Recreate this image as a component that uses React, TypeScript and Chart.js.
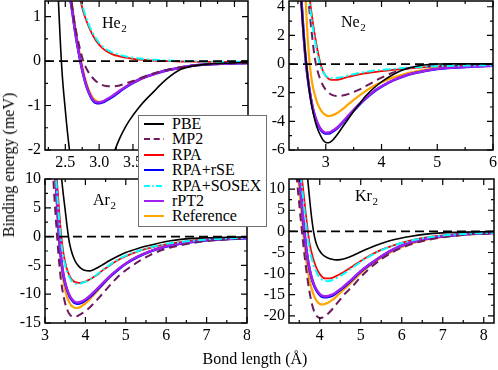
import React, { useEffect, useRef } from "react";
import { Chart, registerables } from "chart.js";
Chart.register(...registerables);

// ---------- series meta ----------
const METHODS = ["PBE", "MP2", "RPA", "RPA+rSE", "RPA+SOSEX", "rPT2", "Reference"];
const COLORS = ["#000000", "#6b1a5c", "#ff0000", "#0000ff", "#00ffff", "#a020f0", "#ffa500"];
const DASHES: number[][] = [[], [8, 5], [], [], [8, 3, 2, 3], [], []];
const WIDTHS = [1.6, 2, 1.8, 2.6, 2, 2.4, 2.2];
// higher order = drawn first (underneath)
const ORDERS = [1, 3, 5, 6, 2, 4, 7];

// ---------- He2 ----------
const heR = [2.3, 2.35, 2.4, 2.45, 2.5, 2.55, 2.6, 2.65, 2.7, 2.75, 2.8, 2.85, 2.9, 2.95, 3.0, 3.05, 3.1, 3.2, 3.3, 3.4, 3.5, 3.6, 3.7, 3.8, 3.9, 4.0, 4.2, 4.4, 4.6, 4.8, 5.0, 5.2];
const hePBE = [6.0, 3.2, 1.3, -0.2, -1.1, -1.85, -2.4, -2.85, -3.2, -3.42, -3.55, -3.58, -3.5, -3.38, -3.2, -2.95, -2.7, -2.15, -1.75, -1.45, -1.22, -1.02, -0.85, -0.7, -0.54, -0.4, -0.19, -0.11, -0.07, -0.05, -0.04, -0.03];
const heMP2 = [13, 10, 7.5, 5.2, 3.4, 2.1, 1.25, 0.75, 0.38, 0.08, -0.13, -0.27, -0.37, -0.45, -0.5, -0.54, -0.56, -0.57, -0.55, -0.5, -0.45, -0.39, -0.33, -0.28, -0.235, -0.2, -0.14, -0.1, -0.075, -0.06, -0.05, -0.045];
const heRPA = [16, 12.5, 9.5, 7, 5.2, 3.8, 2.8, 2.05, 1.55, 1.2, 0.95, 0.76, 0.6, 0.47, 0.37, 0.29, 0.23, 0.15, 0.105, 0.075, 0.05, 0.035, 0.022, 0.012, 0.005, 0.0, -0.01, -0.015, -0.02, -0.02, -0.02, -0.02];
const heRSE = [8, 6.2, 4.6, 3.3, 2.3, 1.65, 1.15, 0.62, 0.18, -0.2, -0.5, -0.72, -0.87, -0.94, -0.95, -0.93, -0.89, -0.8, -0.69, -0.58, -0.49, -0.41, -0.35, -0.3, -0.25, -0.21, -0.15, -0.1, -0.075, -0.06, -0.05, -0.045];
const heSOSEX = [17, 13.5, 10.2, 7.5, 5.5, 4.0, 2.95, 2.15, 1.62, 1.27, 1.01, 0.81, 0.65, 0.52, 0.41, 0.33, 0.27, 0.19, 0.14, 0.1, 0.075, 0.055, 0.04, 0.03, 0.02, 0.012, 0.0, -0.008, -0.012, -0.015, -0.015, -0.015];
const heRPT2 = [8, 6.2, 4.6, 3.3, 2.3, 1.65, 1.15, 0.62, 0.18, -0.2, -0.5, -0.71, -0.85, -0.92, -0.93, -0.91, -0.87, -0.78, -0.67, -0.57, -0.48, -0.41, -0.35, -0.3, -0.25, -0.21, -0.15, -0.1, -0.075, -0.06, -0.05, -0.045];
const heREF = [9, 7, 5.2, 3.8, 2.65, 1.85, 1.25, 0.72, 0.27, -0.12, -0.43, -0.66, -0.81, -0.89, -0.92, -0.91, -0.88, -0.79, -0.68, -0.58, -0.49, -0.42, -0.355, -0.3, -0.25, -0.21, -0.15, -0.1, -0.075, -0.06, -0.05, -0.045];

// ---------- Ne2 ----------
const neR = [2.5, 2.55, 2.6, 2.65, 2.7, 2.75, 2.8, 2.85, 2.9, 2.95, 3.0, 3.05, 3.1, 3.2, 3.3, 3.4, 3.5, 3.6, 3.7, 3.8, 3.9, 4.0, 4.2, 4.4, 4.6, 4.8, 5.0, 5.3, 5.6, 6.0];
const nePBE = [9, 5.0, 2.2, 0.0, -1.7, -2.95, -3.85, -4.5, -4.95, -5.3, -5.47, -5.49, -5.4, -4.95, -4.4, -3.85, -3.3, -2.8, -2.3, -1.9, -1.55, -1.25, -0.75, -0.38, -0.17, -0.05, 0.0, 0.02, 0.02, 0.01];
const neMP2 = [14, 11, 8.5, 6.2, 4.0, 2.1, 0.5, -0.45, -1.05, -1.5, -1.8, -2.0, -2.13, -2.23, -2.2, -2.1, -1.95, -1.78, -1.58, -1.37, -1.15, -0.95, -0.6, -0.36, -0.22, -0.15, -0.11, -0.08, -0.06, -0.05];
const neRPA = [16, 13, 10, 7.5, 5.0, 3.4, 2.1, 1.0, 0.1, -0.5, -0.85, -1.02, -1.1, -1.1, -1.02, -0.9, -0.8, -0.72, -0.65, -0.59, -0.54, -0.49, -0.41, -0.33, -0.26, -0.21, -0.17, -0.13, -0.11, -0.09];
const neRSE = [8.5, 5.2, 2.2, -0.1, -1.65, -2.8, -3.6, -4.15, -4.53, -4.76, -4.85, -4.84, -4.76, -4.5, -4.1, -3.67, -3.25, -2.84, -2.46, -2.12, -1.82, -1.57, -1.16, -0.85, -0.63, -0.47, -0.35, -0.25, -0.18, -0.12];
const neSOSEX = [15, 12, 9.3, 6.8, 4.6, 3.0, 1.8, 0.7, -0.1, -0.55, -0.82, -0.95, -1.0, -0.98, -0.9, -0.8, -0.71, -0.63, -0.56, -0.5, -0.45, -0.41, -0.34, -0.27, -0.22, -0.18, -0.15, -0.12, -0.1, -0.08];
const neRPT2 = [8.5, 5.2, 2.2, -0.1, -1.6, -2.75, -3.55, -4.1, -4.48, -4.7, -4.79, -4.78, -4.7, -4.45, -4.05, -3.62, -3.2, -2.8, -2.43, -2.1, -1.8, -1.55, -1.15, -0.84, -0.62, -0.46, -0.34, -0.25, -0.18, -0.12];
const neREF = [18, 13, 8, 3.6, 0.5, -1.2, -2.1, -2.75, -3.15, -3.42, -3.57, -3.63, -3.6, -3.43, -3.15, -2.82, -2.5, -2.2, -1.92, -1.67, -1.45, -1.27, -0.95, -0.71, -0.53, -0.39, -0.29, -0.2, -0.14, -0.1];

// ---------- Ar2 ----------
const arR = [3.1, 3.2, 3.25, 3.3, 3.35, 3.4, 3.45, 3.5, 3.55, 3.6, 3.65, 3.7, 3.75, 3.8, 3.85, 3.9, 4.0, 4.1, 4.2, 4.3, 4.4, 4.6, 4.8, 5.0, 5.3, 5.6, 6.0, 6.5, 7.0, 7.5, 8.0];
const arPBE = [60, 35, 26, 19, 14, 10.8, 7.5, 4.6, 1.6, -0.9, -2.4, -3.5, -4.3, -4.85, -5.25, -5.55, -5.9, -5.95, -5.75, -5.4, -5.0, -4.15, -3.4, -2.75, -2.05, -1.5, -0.85, -0.4, -0.2, -0.1, -0.05];
const arMP2 = [30, 11, 5, 0, -4.5, -7.8, -10.0, -11.6, -12.7, -13.4, -13.8, -13.95, -13.9, -13.8, -13.6, -13.4, -12.95, -12.35, -11.65, -10.9, -10.1, -8.5, -7.0, -5.85, -4.4, -3.2, -2.1, -1.3, -0.78, -0.5, -0.33];
const arRPA = [35, 20, 14.5, 9.3, 4.5, 0.3, -2.6, -4.5, -5.8, -6.7, -7.3, -7.7, -7.9, -8.0, -8.05, -8.0, -7.8, -7.45, -7.05, -6.6, -6.0, -5.0, -4.1, -3.4, -2.55, -1.95, -1.35, -0.85, -0.5, -0.32, -0.2];
const arRSE = [40, 19, 12.5, 6, 0.1, -3.9, -6.45, -8.15, -9.35, -10.25, -10.9, -11.3, -11.55, -11.65, -11.6, -11.5, -11.1, -10.55, -9.9, -9.15, -8.45, -7.0, -5.78, -4.72, -3.5, -2.58, -1.72, -1.06, -0.63, -0.4, -0.27];
const arSOSEX = [32, 18, 12.5, 7.5, 3.0, -0.9, -3.3, -5.0, -6.2, -7.0, -7.6, -7.95, -8.15, -8.2, -8.2, -8.1, -7.85, -7.45, -7.0, -6.5, -5.95, -4.9, -4.0, -3.3, -2.5, -1.9, -1.3, -0.82, -0.5, -0.32, -0.2];
const arRPT2 = [40, 19, 12.5, 6, 0.2, -3.8, -6.3, -8.0, -9.2, -10.1, -10.7, -11.1, -11.35, -11.45, -11.4, -11.3, -10.9, -10.35, -9.7, -9.0, -8.3, -6.9, -5.7, -4.65, -3.45, -2.55, -1.7, -1.05, -0.62, -0.4, -0.27];
const arREF = [35, 17, 10.5, 4.5, -0.8, -4.8, -7.5, -9.3, -10.6, -11.4, -11.95, -12.25, -12.4, -12.4, -12.3, -12.1, -11.6, -10.95, -10.2, -9.4, -8.6, -7.1, -5.8, -4.7, -3.45, -2.55, -1.7, -1.03, -0.6, -0.38, -0.25];

// ---------- Kr2 ----------
const krR = [3.3, 3.4, 3.45, 3.5, 3.55, 3.6, 3.65, 3.7, 3.75, 3.8, 3.85, 3.9, 3.95, 4.0, 4.05, 4.1, 4.2, 4.3, 4.4, 4.5, 4.6, 4.8, 5.0, 5.2, 5.5, 5.8, 6.2, 6.6, 7.0, 7.5, 8.0, 8.25];
const krPBE = [75, 52, 44, 37, 30, 23.5, 18, 13, 8, 3.4, -0.1, -2.4, -3.75, -4.65, -5.3, -5.75, -6.3, -6.6, -6.75, -6.7, -6.5, -5.75, -4.85, -4.0, -2.9, -2.0, -1.2, -0.65, -0.35, -0.18, -0.1, -0.08];
const krMP2 = [35, 17, 11.5, 6.5, 1.5, -3.2, -7.5, -11.2, -14.3, -16.8, -18.6, -19.7, -20.3, -20.5, -20.45, -20.2, -19.5, -18.5, -17.3, -16.1, -14.9, -13.0, -10.8, -8.9, -6.6, -4.8, -3.15, -2.08, -1.42, -0.86, -0.55, -0.45];
const krRPA = [60, 35, 26, 19, 14, 9.5, 5, 0.8, -2.8, -5.0, -6.8, -8.2, -9.3, -10.1, -10.7, -11.1, -11.15, -11.0, -10.6, -10.1, -9.55, -8.3, -7.0, -5.85, -4.4, -3.3, -2.2, -1.45, -0.98, -0.6, -0.4, -0.33];
const krRSE = [45, 25, 18.5, 13.2, 8.0, 2.4, -2.35, -6.2, -9.0, -11.0, -12.55, -13.65, -14.45, -15.05, -15.45, -15.6, -15.55, -15.25, -14.65, -13.9, -13.1, -11.35, -9.5, -8.0, -5.95, -4.25, -2.72, -1.76, -1.16, -0.72, -0.46, -0.38];
const krSOSEX = [55, 32, 24, 17, 12, 7.5, 3, -1.0, -4.2, -6.3, -8.0, -9.2, -10.2, -10.9, -11.4, -11.7, -11.8, -11.55, -11.1, -10.55, -9.95, -8.6, -7.2, -6.0, -4.5, -3.35, -2.25, -1.48, -1.0, -0.6, -0.4, -0.33];
const krRPT2 = [45, 25, 18.5, 13.2, 8.0, 2.5, -2.2, -6.0, -8.8, -10.8, -12.3, -13.4, -14.2, -14.8, -15.2, -15.35, -15.3, -15.0, -14.4, -13.7, -12.9, -11.2, -9.4, -7.9, -5.9, -4.2, -2.7, -1.75, -1.15, -0.72, -0.46, -0.38];
const krREF = [40, 22, 15.5, 10, 4.8, -0.5, -5.0, -8.8, -11.5, -13.5, -15.0, -16.1, -16.8, -17.2, -17.3, -17.25, -16.9, -16.3, -15.5, -14.6, -13.7, -11.8, -9.9, -8.3, -6.2, -4.6, -3.0, -1.95, -1.3, -0.78, -0.5, -0.42];

// ---------- ticks ----------
const heXMajor = [2.5, 3.0, 3.5, 4.0, 4.5, 5.0];
const heXMinor = [2.25, 2.75, 3.25, 3.75, 4.25, 4.75];
const heYMajor = [-2, -1, 0, 1];
const heYMinor = [-1.5, -0.5, 0.5];
const neXMajor = [3, 4, 5, 6];
const neXMinor = [2.5, 3.5, 4.5, 5.5];
const neYMajor = [-6, -4, -2, 0, 2, 4];
const neYMinor = [-5, -3, -1, 1, 3];
const arXMajor = [3, 4, 5, 6, 7, 8];
const arXMinor = [3.5, 4.5, 5.5, 6.5, 7.5];
const arYMajor = [-15, -10, -5, 0, 5, 10];
const arYMinor = [-12.5, -7.5, -2.5, 2.5, 7.5];
const krXMajor = [4, 5, 6, 7, 8];
const krXMinor = [3.5, 4.5, 5.5, 6.5, 7.5];
const krYMajor = [-20, -15, -10, -5, 0, 5, 10];
const krYMinor = [-17.5, -12.5, -7.5, -2.5, 2.5, 7.5];

const PANEL_NAMES = ["He", "Ne", "Ar", "Kr"];
const SUBSCRIPT = "2";

const FONT = "'Liberation Serif', 'Times New Roman', serif";

type Panel = {
  name: string;
  grid: number[];
  series: number[][];
  xMin: number; xMax: number; yMin: number; yMax: number;
  xMajor: number[]; xMinor: number[]; yMajor: number[]; yMinor: number[];
  xDigits: number;
  box: { left: number; top: number; width: number; height: number };
  pad: { left: number; top: number; right: number; bottom: number };
  yW: number; xH: number;
  labelOff: [number, number];
};

const PANELS: Panel[] = [
  {
    name: PANEL_NAMES[0], grid: heR,
    series: [hePBE, heMP2, heRPA, heRSE, heSOSEX, heRPT2, heREF],
    xMin: 2.2, xMax: 5.2, yMin: -2, yMax: 1.35,
    xMajor: heXMajor, xMinor: heXMinor, yMajor: heYMajor, yMinor: heYMinor, xDigits: 1,
    box: { left: 0, top: 0, width: 250, height: 172 },
    pad: { left: 0, top: 1, right: 2, bottom: 0 }, yW: 45, xH: 22,
    labelOff: [57, 27],
  },
  {
    name: PANEL_NAMES[1], grid: neR,
    series: [nePBE, neMP2, neRPA, neRSE, neSOSEX, neRPT2, neREF],
    xMin: 2.34, xMax: 6, yMin: -6, yMax: 4.4,
    xMajor: neXMajor, xMinor: neXMinor, yMajor: neYMajor, yMinor: neYMinor, xDigits: 0,
    box: { left: 250, top: 0, width: 248, height: 172 },
    pad: { left: 0, top: 1, right: 5, bottom: 0 }, yW: 39, xH: 22,
    labelOff: [52, 26],
  },
  {
    name: PANEL_NAMES[2], grid: arR,
    series: [arPBE, arMP2, arRPA, arRSE, arSOSEX, arRPT2, arREF],
    xMin: 3, xMax: 8, yMin: -15, yMax: 10,
    xMajor: arXMajor, xMinor: arXMinor, yMajor: arYMajor, yMinor: arYMinor, xDigits: 0,
    box: { left: 0, top: 170, width: 250, height: 175 },
    pad: { left: 0, top: 9, right: 3, bottom: 0 }, yW: 45, xH: 22,
    labelOff: [48, 26],
  },
  {
    name: PANEL_NAMES[3], grid: krR,
    series: [krPBE, krMP2, krRPA, krRSE, krSOSEX, krRPT2, krREF],
    xMin: 3.25, xMax: 8.25, yMin: -21.7, yMax: 12.4,
    xMajor: krXMajor, xMinor: krXMinor, yMajor: krYMajor, yMinor: krYMinor, xDigits: 0,
    box: { left: 250, top: 170, width: 248, height: 175 },
    pad: { left: 0, top: 9, right: 4, bottom: 0 }, yW: 39, xH: 22,
    labelOff: [66, 22],
  },
];

function makeFramePlugin(p: Panel) {
  return {
    id: "frame" + p.name,
    afterDatasetsDraw(chart: any) {
      const ctx = chart.ctx as CanvasRenderingContext2D;
      const a = chart.chartArea;
      const xs = chart.scales.x;
      const ys = chart.scales.y;
      ctx.save();
      // zero line
      const y0 = ys.getPixelForValue(0);
      ctx.beginPath();
      ctx.setLineDash([9, 5]);
      ctx.strokeStyle = "#000";
      ctx.lineWidth = 1.8;
      ctx.moveTo(a.left, y0);
      ctx.lineTo(a.right, y0);
      ctx.stroke();
      ctx.setLineDash([]);
      // frame
      ctx.lineWidth = 1.5;
      ctx.strokeRect(a.left, a.top, a.right - a.left, a.bottom - a.top);
      // ticks
      ctx.lineWidth = 1.2;
      const tick = (vals: number[], len: number) => {
        vals.forEach((v) => {
          const px = xs.getPixelForValue(v);
          if (px < a.left - 0.5 || px > a.right + 0.5) return;
          ctx.beginPath();
          ctx.moveTo(px, a.bottom); ctx.lineTo(px, a.bottom - len);
          ctx.moveTo(px, a.top); ctx.lineTo(px, a.top + len);
          ctx.stroke();
        });
      };
      const ytick = (vals: number[], len: number) => {
        vals.forEach((v) => {
          const py = ys.getPixelForValue(v);
          if (py < a.top - 0.5 || py > a.bottom + 0.5) return;
          ctx.beginPath();
          ctx.moveTo(a.left, py); ctx.lineTo(a.left + len, py);
          ctx.moveTo(a.right, py); ctx.lineTo(a.right - len, py);
          ctx.stroke();
        });
      };
      tick(p.xMajor, 6); tick(p.xMinor, 3);
      ytick(p.yMajor, 6); ytick(p.yMinor, 3);
      // panel label
      ctx.fillStyle = "#000";
      ctx.textBaseline = "alphabetic";
      ctx.textAlign = "left";
      ctx.font = `16px ${FONT}`;
      const lx = a.left + p.labelOff[0];
      const ly = a.top + p.labelOff[1];
      ctx.fillText(p.name, lx, ly);
      const w = ctx.measureText(p.name).width;
      ctx.font = `11px ${FONT}`;
      ctx.fillText(SUBSCRIPT, lx + w + 0.5, ly + 4);
      ctx.restore();
    },
  };
}

function zeroPad(ax: any) {
  ax.paddingTop = 0;
  ax.paddingBottom = 0;
  ax.paddingLeft = 0;
  ax.paddingRight = 0;
}

function PanelChart({ p }: { p: Panel }) {
  const ref = useRef<HTMLCanvasElement | null>(null);
  useEffect(() => {
    if (!ref.current) return;
    const datasets = METHODS.map((m, i) => ({
      label: m,
      data: p.grid.map((x, j) => ({ x, y: p.series[i][j] })),
      borderColor: COLORS[i],
      backgroundColor: COLORS[i],
      borderWidth: WIDTHS[i],
      borderDash: DASHES[i],
      pointRadius: 0,
      fill: false,
      cubicInterpolationMode: "monotone" as const,
      order: ORDERS[i],
    }));
    const tickFont = { family: FONT, size: 16 };
    const chart = new Chart(ref.current, {
      type: "line",
      data: { datasets },
      options: {
        animation: false,
        responsive: false,
        maintainAspectRatio: false,
        events: [],
        layout: { padding: p.pad },
        plugins: { legend: { display: false }, tooltip: { enabled: false } },
        scales: {
          x: {
            type: "linear",
            min: p.xMin,
            max: p.xMax,
            grid: { display: false, drawTicks: false },
            border: { display: false },
            ticks: {
              color: "#000",
              font: tickFont,
              padding: 3,
              maxRotation: 0,
              autoSkip: false,
              callback: (v: any) => Number(v).toFixed(p.xDigits),
            },
            afterBuildTicks: (ax: any) => {
              ax.ticks = p.xMajor.map((v) => ({ value: v }));
            },
            afterFit: (ax: any) => {
              ax.height = p.xH;
              zeroPad(ax);
            },
          },
          y: {
            type: "linear",
            min: p.yMin,
            max: p.yMax,
            grid: { display: false, drawTicks: false },
            border: { display: false },
            ticks: {
              color: "#000",
              font: tickFont,
              padding: 4,
              autoSkip: false,
              callback: (v: any) => String(v),
            },
            afterBuildTicks: (ax: any) => {
              ax.ticks = p.yMajor.map((v) => ({ value: v }));
            },
            afterFit: (ax: any) => {
              ax.width = p.yW;
              zeroPad(ax);
            },
          },
        },
      },
      plugins: [makeFramePlugin(p)],
    } as any);
    return () => chart.destroy();
  }, [p]);
  return (
    <canvas
      ref={ref}
      width={p.box.width}
      height={p.box.height}
      style={{
        position: "absolute",
        left: p.box.left,
        top: p.box.top,
        width: p.box.width,
        height: p.box.height,
      }}
    />
  );
}

function LegendSample({ i }: { i: number }) {
  return (
    <svg width={20} height={6} style={{ position: "absolute", left: 5, top: -3 }}>
      <line
        x1={0} y1={3} x2={20} y2={3}
        stroke={COLORS[i]}
        strokeWidth={2}
        strokeDasharray={DASHES[i].length ? DASHES[i].map((d) => d * 0.75).join(" ") : undefined}
      />
    </svg>
  );
}

export default function App() {
  return (
    <div style={{ position: "absolute", left: 0, top: 0, width: 498, height: 370, background: "#fff", overflow: "hidden" }}>
      {PANELS.map((p) => (
        <PanelChart key={p.name} p={p} />
      ))}
      <div
        style={{
          position: "absolute",
          left: 9,
          top: 165,
          transform: "translate(-50%, -50%) rotate(-90deg)",
          whiteSpace: "nowrap",
          fontFamily: FONT,
          fontSize: 16,
          color: "#000",
        }}
      >
        Binding energy (meV)
      </div>
      <div
        style={{
          position: "absolute",
          left: 255,
          top: 359,
          transform: "translate(-50%, -50%)",
          whiteSpace: "nowrap",
          fontFamily: FONT,
          fontSize: 16,
          color: "#000",
        }}
      >
        Bond length (Å)
      </div>
      <div
        style={{
          position: "absolute",
          left: 138,
          top: 115,
          width: 129,
          height: 112,
          boxSizing: "border-box",
          border: "1px solid #6e6e6e",
          background: "#fff",
          fontFamily: FONT,
          fontSize: 16,
          color: "#000",
        }}
      >
        {METHODS.map((m, i) => (
          <div key={m} style={{ position: "absolute", left: 0, top: 8 + i * 15.4, height: 0 }}>
            <LegendSample i={i} />
            <div style={{ position: "absolute", left: 33, top: -9, lineHeight: "18px", whiteSpace: "nowrap" }}>{m}</div>
          </div>
        ))}
      </div>
    </div>
  );
}
